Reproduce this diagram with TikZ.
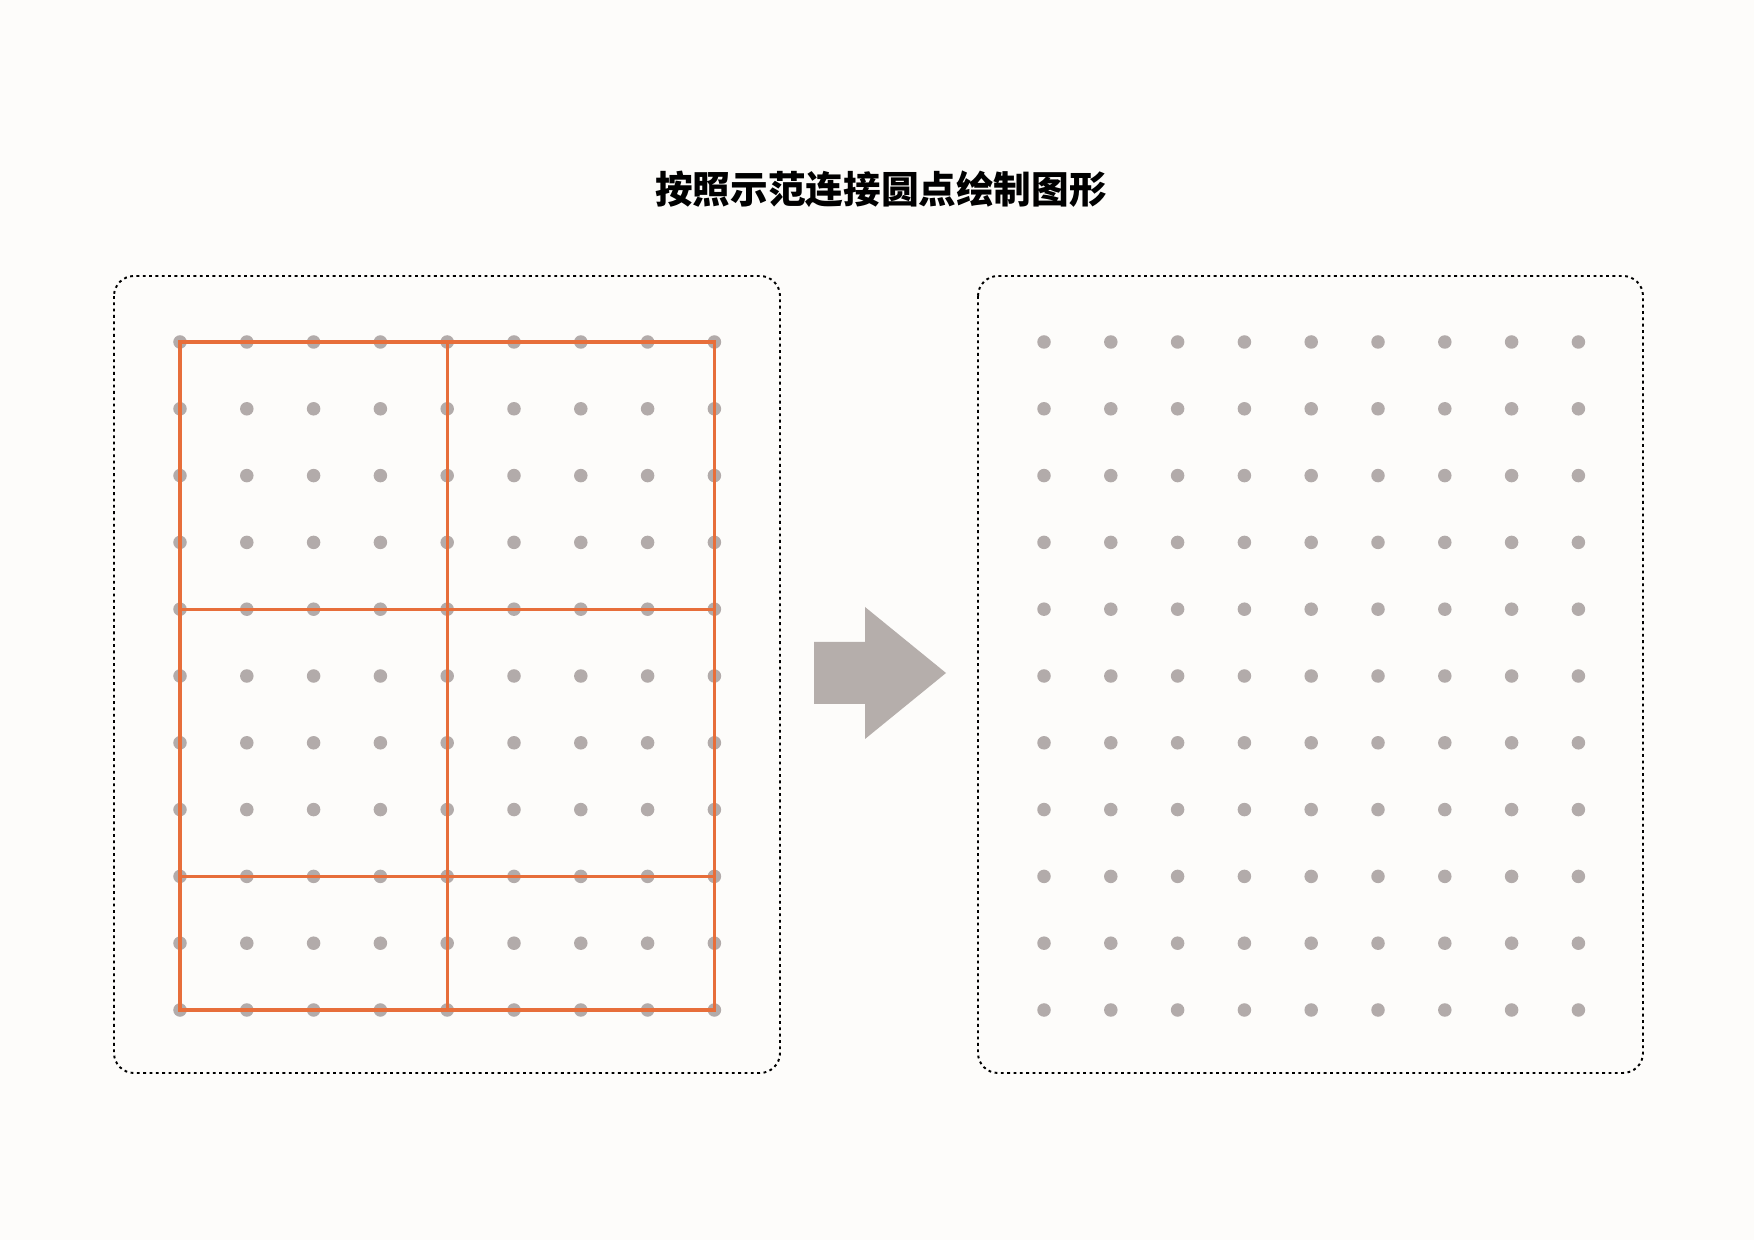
\documentclass[tikz,border=0pt]{standalone}
\usepackage{fontspec}
\usepackage{tikz}
\usetikzlibrary{calc}
\newfontfamily\cjk{Noto Sans CJK SC}
\definecolor{pagebg}{RGB}{253,252,250}
\definecolor{dotgray}{RGB}{178,171,170}
\definecolor{arrowgray}{RGB}{181,174,171}
\definecolor{lineorange}{RGB}{231,110,58}
\tikzset{
	dot/.style={circle, fill=dotgray, inner sep=0pt, minimum size=0.135cm},
	seg/.style={color=lineorange, line width=0.95pt},
	panel/.style={line width=0.55pt, dash pattern=on 0.8pt off 1pt, rounded corners=0.2cm}
}

\begin{document}
\begin{tikzpicture}[x=0.01cm, y=-0.01cm]
		\fill[pagebg] (0,0) rectangle (1754,1240);
		\useasboundingbox (0,0) rectangle (1754,1240);
		\node[font=\cjk\bfseries\fontsize{10.7}{12}\selectfont] (title) at (881,189) {按照示范连接圆点绘制图形};
		\draw[panel] (114,276) rectangle (780,1073);
		\draw[panel] (978,276) rectangle (1643,1073);
		\foreach \i in {0,...,8}
			\foreach \j in {0,...,10} {
				\node[dot] (L-\i-\j) at ({180+66.8*\i},{342+66.8*\j}) {};
				\node[dot] (R-\i-\j) at ({1044+66.8*\i},{342+66.8*\j}) {};
			}
		\draw[seg] (L-0-0.center) -- (L-8-0.center) -- (L-8-10.center) -- (L-0-10.center) -- cycle;
		\draw[seg] (L-4-0.center) -- (L-4-10.center);
		\draw[seg] (L-0-4.center) -- (L-8-4.center);
		\draw[seg] (L-0-8.center) -- (L-8-8.center);
		\fill[arrowgray] (814,642) -- (865,642) -- (865,607) -- (946,673) -- (865,739) -- (865,704) -- (814,704) -- cycle;
	\end{tikzpicture}
\end{document}
